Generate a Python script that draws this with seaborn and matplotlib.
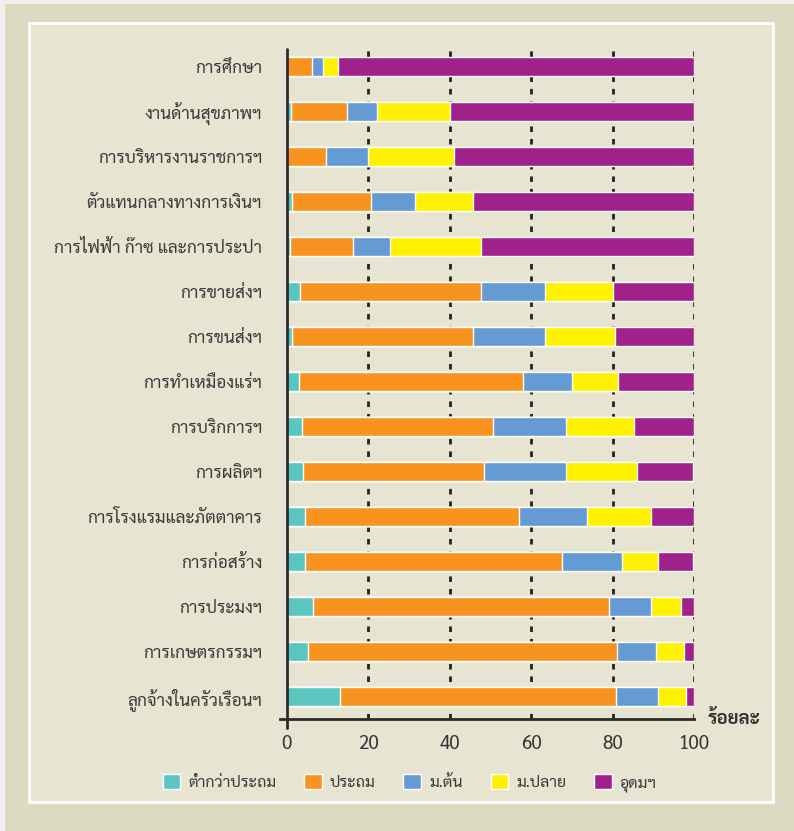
import pandas as pd
import matplotlib.pyplot as plt
import seaborn as sns
from matplotlib.patches import Patch, Rectangle

# Data (percent of workers by education level, per industry)
industries = [
    "การศึกษา",
    "งานด้านสุขภาพฯ",
    "การบริหารงานราชการฯ",
    "ตัวแทนกลางทางการเงินฯ",
    "การไฟฟ้า ก๊าซ และการประปา",
    "การขายส่งฯ",
    "การขนส่งฯ",
    "การทำเหมืองแร่ฯ",
    "การบริกการฯ",
    "การผลิตฯ",
    "การโรงแรมและภัตตาคาร",
    "การก่อสร้าง",
    "การประมงฯ",
    "การเกษตรกรรมฯ",
    "ลูกจ้างในครัวเรือนฯ",
]
below_primary = [0, 1.0, 0, 1.2, 0.7, 3.2, 1.2, 3.0, 3.7, 4.0, 4.5, 4.5, 6.5, 5.1, 13.0]
primary = [6.1, 13.8, 9.6, 19.6, 15.6, 44.5, 44.5, 55.0, 46.9, 44.3, 52.5, 63.0, 72.6, 75.9, 67.8]
lower_sec = [2.8, 7.4, 10.4, 10.6, 9.0, 15.7, 17.7, 12.0, 17.9, 20.2, 16.7, 14.8, 10.3, 9.6, 10.3]
upper_sec = [3.7, 17.9, 21.1, 14.2, 22.4, 16.7, 17.1, 11.3, 16.7, 17.4, 15.7, 8.8, 7.3, 6.9, 6.9]
higher = [87.4, 59.9, 58.9, 54.4, 52.3, 19.9, 19.5, 18.7, 14.8, 13.9, 10.6, 8.7, 3.3, 2.5, 2.0]

levels = ["ต่ำกว่าประถม", "ประถม", "ม.ต้น", "ม.ปลาย", "อุดมฯ"]
colors = ["#5BC6C0", "#F7931E", "#659BD3", "#FFF200", "#A0218C"]

df = pd.DataFrame({
    "industry": industries,
    levels[0]: below_primary,
    levels[1]: primary,
    levels[2]: lower_sec,
    levels[3]: upper_sec,
    levels[4]: higher,
})
cum = df[levels].cumsum(axis=1)

sns.set_style("white")
plt.rcParams["font.family"] = ["Sarabun", "DejaVu Sans"]

fig = plt.figure(figsize=(7.94, 8.31), dpi=100, facecolor="#DCDAC0")
# page frame
fig.patches.append(Rectangle((0, 0.996), 1, 0.004, transform=fig.transFigure, color="#F0F0F0", zorder=-2))
fig.patches.append(Rectangle((0, 0), 0.005, 1, transform=fig.transFigure, color="#F0F0F0", zorder=-2))
fig.patches.append(Rectangle((29 / 794, 1 - 802 / 831), 744 / 794, 779 / 831, transform=fig.transFigure,
                             facecolor="#E7E4D2", edgecolor="white", linewidth=2, zorder=-1))

ax = fig.add_axes([0.3529, 0.1348, 0.5215, 0.8062])
ax.set_facecolor("none")

# stacked bars: draw cumulative totals from widest to narrowest
for lvl, c in reversed(list(zip(levels, colors))):
    sns.barplot(x=cum[lvl], y=df["industry"], color=c, saturation=1, width=0.42,
                orient="h", ax=ax, zorder=3)

ax.set_xlim(-1.6, 100)
ax.set_ylim(14.5, -0.39)
ax.set_xticks([0, 20, 40, 60, 80, 100])
for v in [20, 40, 60, 80, 100]:
    ax.axvline(v, color="#222222", linestyle=(0, (2, 2.5)), linewidth=2, zorder=1)
ax.axvline(0, ymin=-0.014, ymax=1, color="#2b2b2b", linewidth=2, clip_on=False, zorder=4)

for s in ["top", "right", "left"]:
    ax.spines[s].set_visible(False)
ax.spines["bottom"].set_color("#2b2b2b")
ax.spines["bottom"].set_linewidth(2)

ax.tick_params(axis="y", length=0, pad=13, labelsize=12.4, labelcolor="#3a3a3a")
ax.tick_params(axis="x", length=6.5, width=2, color="#2b2b2b", pad=5, labelsize=13.5, labelcolor="#333333")
ax.set_xlabel("")
ax.set_ylabel("")
ax.text(1.031, 0, "ร้อยละ", transform=ax.transAxes, va="center", ha="left",
        fontsize=13.5, fontweight="bold", color="#333333")

handles = [Patch(facecolor=c, label=l) for l, c in zip(levels, colors)]
fig.legend(handles=handles, loc="center", bbox_to_anchor=(0.516, 0.058), ncol=5, frameon=False,
           fontsize=11.5, handlelength=1.1, handleheight=1.1, handletextpad=0.5, columnspacing=1.75,
           labelcolor="#3a3a3a")

plt.savefig("out.png", dpi=100, facecolor=fig.get_facecolor())
